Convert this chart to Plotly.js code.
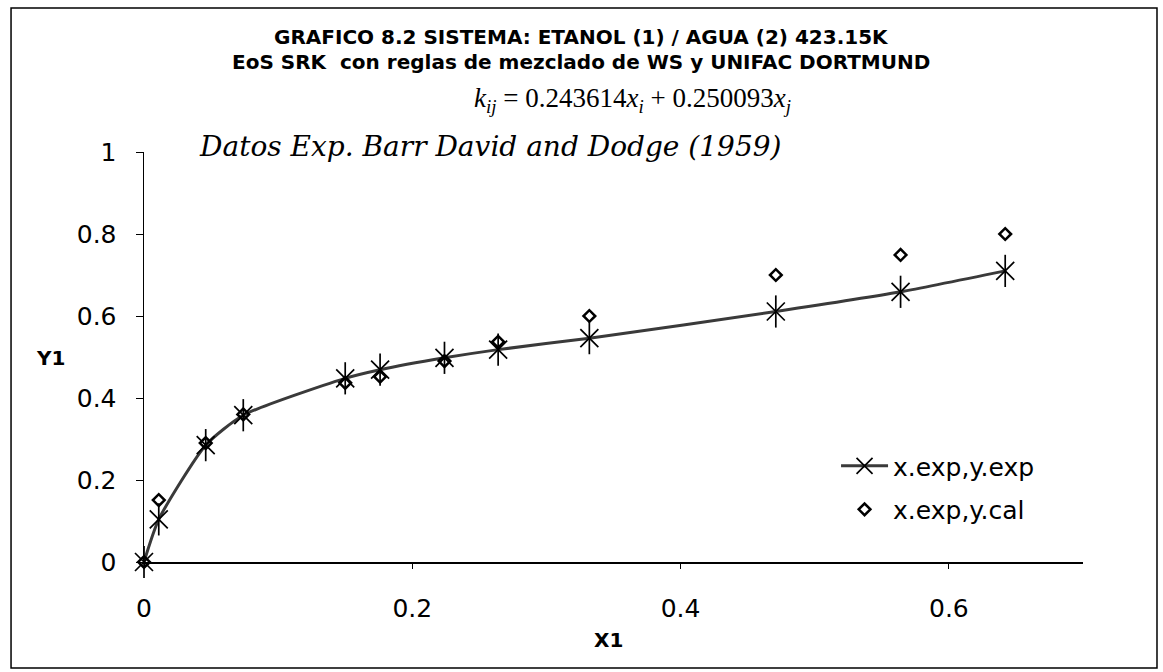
<!DOCTYPE html>
<html>
<head>
<meta charset="utf-8">
<script src="https://cdn.plot.ly/plotly-3.0.1.min.js"></script>
<style>html,body{margin:0;padding:0;background:#fff;}#chart{width:1163px;height:672px;}</style>
</head>
<body>
<div id="chart"></div>
<script>
// Data
var xExp = [0, 0.011, 0.046, 0.074, 0.150, 0.176, 0.224, 0.264, 0.332, 0.471, 0.564, 0.642];
var yExp = [0, 0.104, 0.285, 0.358, 0.448, 0.469, 0.498, 0.518, 0.546, 0.611, 0.659, 0.710];
var yCal = [0, 0.151, 0.290, 0.360, 0.437, 0.452, 0.490, 0.537, 0.600, 0.700, 0.749, 0.800];
var xTicks = [0, 0.2, 0.4, 0.6];
var xTickText = ["0", "0.2", "0.4", "0.6"];
var yTicks = [0, 0.2, 0.4, 0.6, 0.8, 1];
var yTickText = ["0", "0.2", "0.4", "0.6", "0.8", "1"];
var nameExp = "x.exp,y.exp";
var nameCal = "x.exp,y.cal";

var traces = [
  {
    x: xExp, y: yExp, name: nameExp, legendgroup: "a",
    type: "scatter", mode: "lines+markers",
    line: {color: "#3a3a3a", width: 3, shape: "spline", smoothing: 0.6},
    marker: {symbol: "x-thin-open", size: 18, color: "#000", line: {color: "#000", width: 1.7}},
    cliponaxis: false
  },
  {
    x: xExp, y: yExp, name: nameExp, legendgroup: "a", showlegend: false,
    type: "scatter", mode: "markers", hoverinfo: "skip",
    marker: {symbol: "line-ns-open", size: 23, color: "#000", line: {color: "#000", width: 1.7}},
    cliponaxis: false
  },
  {
    x: xExp, y: yCal, name: nameCal, legendgroup: "b",
    type: "scatter", mode: "markers",
    marker: {symbol: "diamond-open", size: 9, color: "#000", line: {color: "#000", width: 2.5}},
    cliponaxis: false
  }
];

var sans = "DejaVu Sans, Verdana, sans-serif";
var layout = {
  width: 1163, height: 672,
  margin: {l: 144, r: 80, t: 152, b: 110},
  paper_bgcolor: "#fff", plot_bgcolor: "#fff",
  showlegend: true,
  legend: {
    x: 0.737, xanchor: "left", y: 0.29, yanchor: "top",
    font: {family: sans, size: 25, color: "#000"},
    bgcolor: "rgba(0,0,0,0)", tracegroupgap: 8, traceorder: "grouped", itemwidth: 47
  },
  xaxis: {
    range: [0, 0.7], tickvals: xTicks, ticktext: xTickText,
    showgrid: false, zeroline: false, showline: true, linecolor: "#000", linewidth: 1.5,
    ticks: "outside", ticklen: 5, tickcolor: "#000", ticklabelstandoff: 18,
    tickfont: {family: sans, size: 25, color: "#000"}
  },
  yaxis: {
    range: [0, 1], tickvals: yTicks, ticktext: yTickText,
    showgrid: false, zeroline: false, showline: true, linecolor: "#000", linewidth: 1.5,
    ticks: "outside", ticklen: 7, tickcolor: "#000", ticklabelstandoff: 14,
    tickfont: {family: sans, size: 25, color: "#000"}
  },
  shapes: [
    {type: "rect", xref: "paper", yref: "paper", x0: -0.1416, x1: 1.0788, y0: -0.2585, y1: 1.351,
     line: {color: "#000", width: 1.5}, fillcolor: "rgba(0,0,0,0)", layer: "below"}
  ],
  annotations: [
    {xref: "paper", yref: "paper", x: 0.4654, y: 1.2805, showarrow: false, xanchor: "center", yanchor: "middle",
     text: "<b>GRAFICO 8.2 SISTEMA: ETANOL (1) / AGUA (2) 423.15K</b>", font: {family: sans, size: 20, color: "#000"}},
    {xref: "paper", yref: "paper", x: 0.4654, y: 1.2195, showarrow: false, xanchor: "center", yanchor: "middle",
     text: "<b>EoS SRK  con reglas de mezclado de WS y UNIFAC DORTMUND</b>", font: {family: sans, size: 20, color: "#000"}},
    {xref: "paper", yref: "paper", x: 0.52, y: 1.1268, showarrow: false, xanchor: "center", yanchor: "middle",
     text: "<i>k<sub>ij</sub></i> = 0.243614<i>x<sub>i</sub></i> + 0.250093<i>x<sub>j</sub></i>",
     font: {family: "Liberation Serif, Times New Roman, serif", size: 27, color: "#000"}},
    {xref: "paper", yref: "paper", x: 0.3685, y: 1.0146, showarrow: false, xanchor: "center", yanchor: "middle",
     text: "<i>Datos Exp. Barr David and Dodge (1959)</i>",
     font: {family: "DejaVu Serif, serif", size: 28, color: "#000"}},
    {xref: "paper", yref: "paper", x: -0.1, y: 0.4976, showarrow: false, xanchor: "center", yanchor: "middle",
     text: "<b>Y1</b>", font: {family: sans, size: 20, color: "#000"}},
    {xref: "paper", yref: "paper", x: 0.495, y: -0.19, showarrow: false, xanchor: "center", yanchor: "middle",
     text: "<b>X1</b>", font: {family: sans, size: 20, color: "#000"}}
  ]
};

Plotly.newPlot("chart", traces, layout, {displayModeBar: false, staticPlot: true});
</script>
</body>
</html>
